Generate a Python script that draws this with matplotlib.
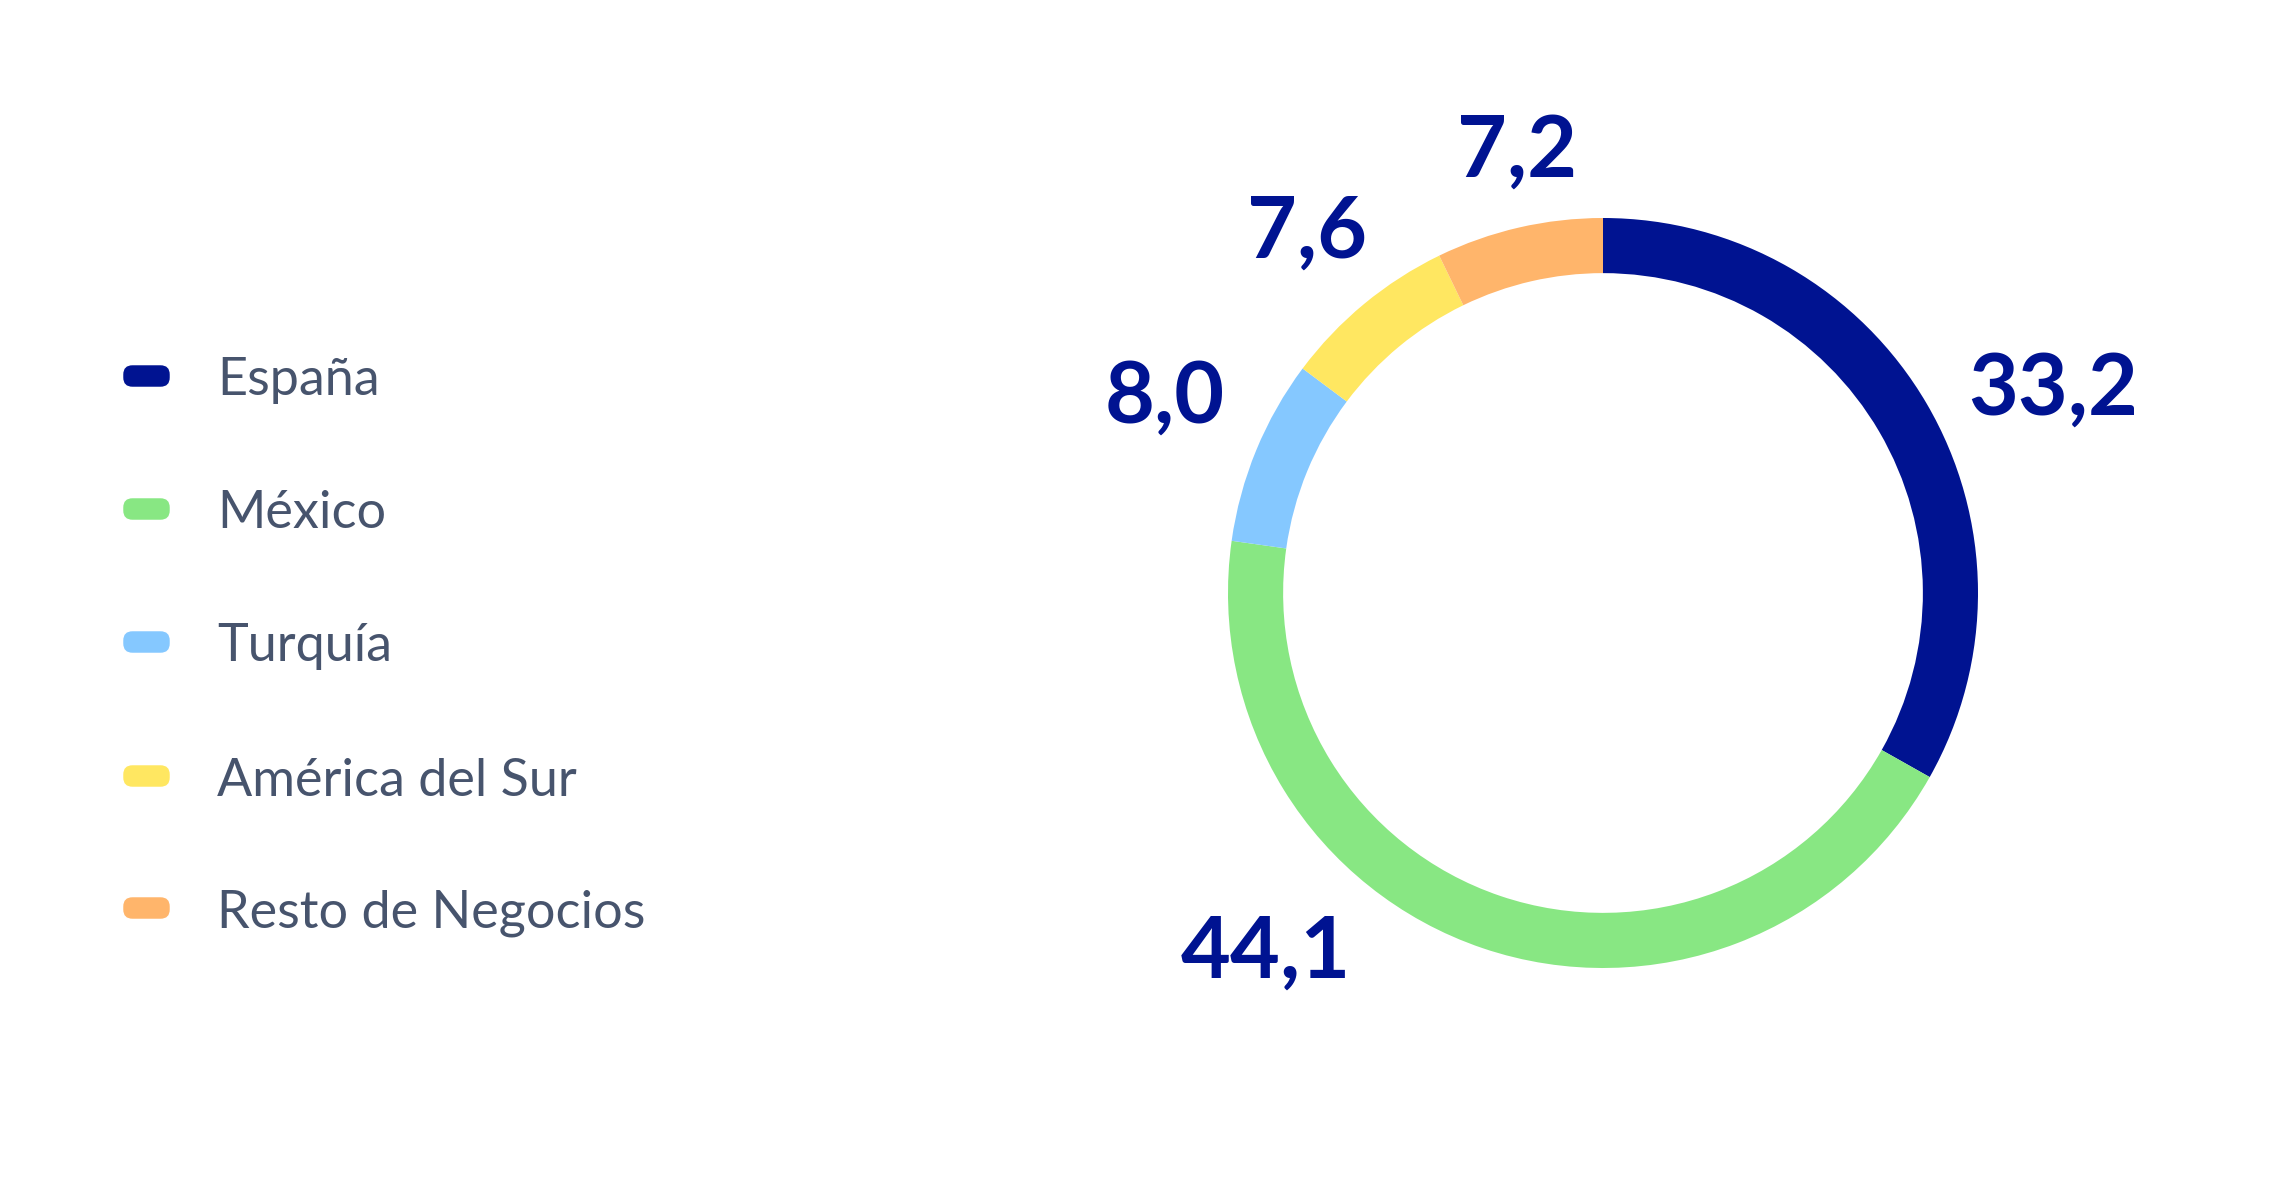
import matplotlib
matplotlib.use("Agg")
from matplotlib import patches
from matplotlib import pyplot as plt

# data
regions = ["España", "México", "Turquía", "América del Sur", "Resto de Negocios"]
shares = [33.2, 44.1, 8.0, 7.6, 7.2]
share_labels = ["33,2", "44,1", "8,0", "7,6", "7,2"]
colors = ["#001391", "#88E783", "#85C8FF", "#FFE761", "#FFB56B"]

# hand placed label spots (data units, ring radius = 1)
label_pos = [(1.20, 0.54), (-0.90, -0.96), (-1.17, 0.52), (-0.79, 0.96), (-0.23, 1.175)]

W, H, DPI = 2292, 1188, 100
LABEL_COLOR = "#001391"
TEXT_COLOR = "#47546D"


def main():
    fig = plt.figure(figsize=(W / DPI, H / DPI), dpi=DPI)

    # donut: centre (1603, 593) px, outer radius 375 px
    half = 1.5
    size = 2 * half * 375
    cx, cy = 1603, H - 593
    ax = fig.add_axes([(cx - size / 2) / W, (cy - size / 2) / H, size / W, size / H])
    ax.pie(
        shares,
        colors=colors,
        startangle=90,
        counterclock=False,
        radius=1.0,
        wedgeprops=dict(width=0.147, linewidth=0),
    )
    ax.set_xlim(-half, half)
    ax.set_ylim(-half, half)
    ax.set_aspect("equal")
    ax.axis("off")

    for text, (x, y) in zip(share_labels, label_pos):
        ax.text(x, y, text, ha="center", va="center", fontsize=62,
                fontfamily="Lato", fontweight="bold", color=LABEL_COLOR)

    # legend
    row_y = [376, 509, 642, 776, 908]
    for name, color, y in zip(regions, colors, row_y):
        fy = (H - y) / H
        fig.patches.append(patches.FancyBboxPatch(
            (129 / W, fy - 5 / H), 35 / W, 10 / H,
            boxstyle="round,pad=0.0025,rounding_size=0.004",
            mutation_aspect=W / H,
            transform=fig.transFigure, facecolor=color, edgecolor="none",
        ))
        fig.text(217 / W, fy - 5 / H, name, ha="left", va="center", fontsize=37.5,
                 fontfamily="Lato", color=TEXT_COLOR)

    fig.savefig("out.png", dpi=DPI, facecolor="white")


if __name__ == "__main__":
    main()
